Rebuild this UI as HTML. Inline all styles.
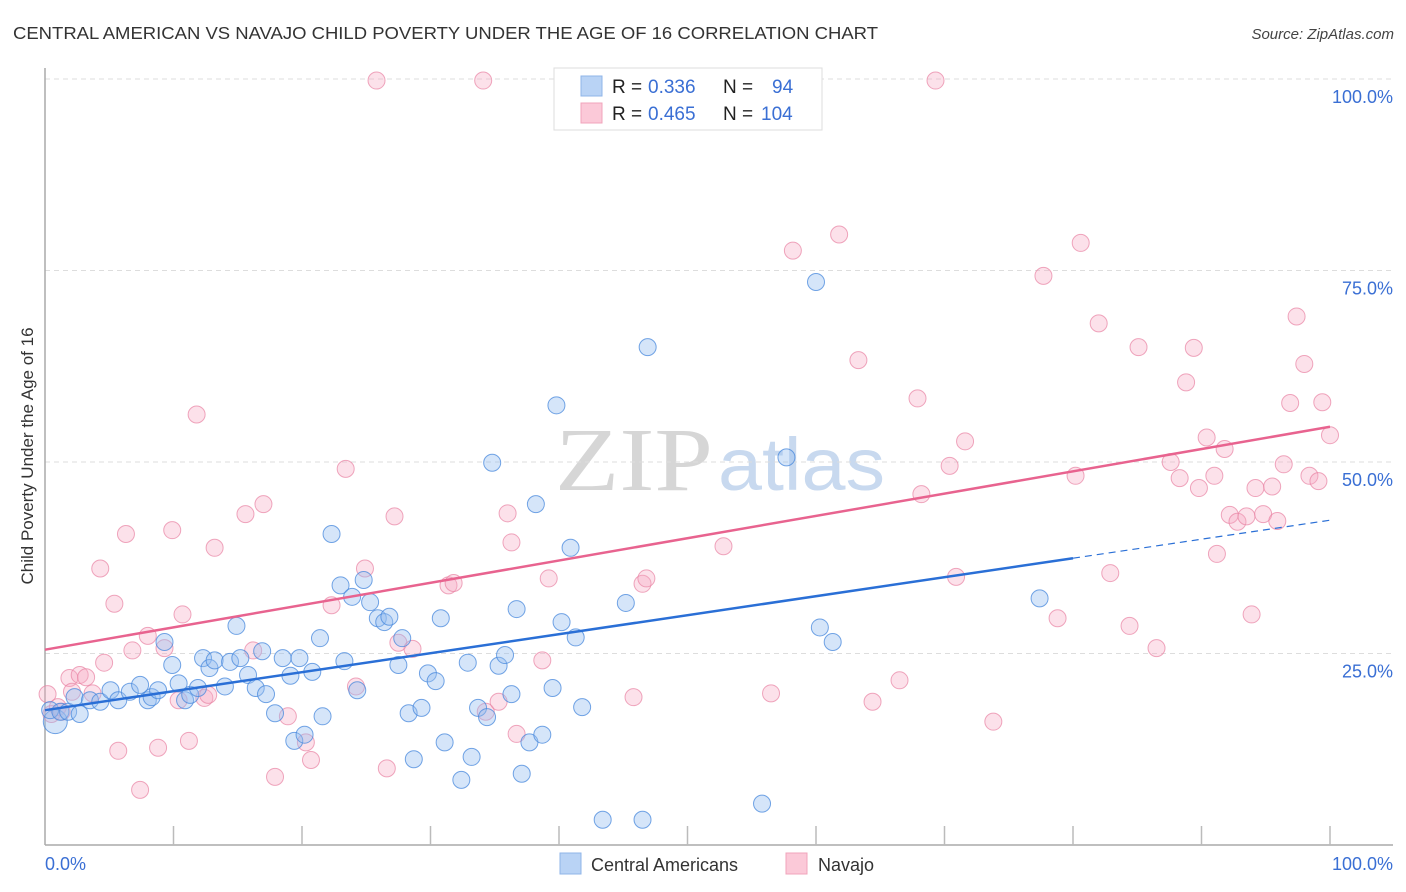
<!DOCTYPE html>
<html><head><meta charset="utf-8"><style>
body{margin:0;background:#fff;font-family:"Liberation Sans",sans-serif}
svg{display:block}
</style></head><body>
<svg id="chart" width="1406" height="892" viewBox="0 0 1406 892">
<text x="13" y="39" font-size="17.5" fill="#333" textLength="865" lengthAdjust="spacingAndGlyphs">CENTRAL AMERICAN VS NAVAJO CHILD POVERTY UNDER THE AGE OF 16 CORRELATION CHART</text>
<text x="1394" y="39" font-size="15" fill="#444" text-anchor="end" font-style="italic">Source: ZipAtlas.com</text>
<g>
<text x="555" y="490" font-size="90" font-family="Liberation Serif,serif" fill="#d6d6d6" textLength="158" lengthAdjust="spacingAndGlyphs">ZIP</text>
<text x="718" y="490" font-size="74" fill="#c8d9ef" textLength="167" lengthAdjust="spacingAndGlyphs">atlas</text>
</g>
<g id="grid"></g>
<line x1="45" y1="68" x2="45" y2="845" stroke="#aaa" stroke-width="1.5"/>
<line x1="45" y1="845" x2="1393" y2="845" stroke="#aaa" stroke-width="1.5"/>
<g id="xticks"></g>
<text transform="translate(33,456) rotate(-90)" font-size="17" fill="#333" text-anchor="middle">Child Poverty Under the Age of 16</text>
<text x="45" y="870" font-size="18" fill="#3a6fd4">0.0%</text>
<text x="1393" y="870" font-size="18" fill="#3a6fd4" text-anchor="end">100.0%</text>
<g id="pts"></g>
<g id="trends"></g>
<g>
<rect x="554" y="68" width="268" height="62" fill="#fff" stroke="#ddd"/>
<rect x="581" y="76" width="21" height="20" fill="#b9d3f5" stroke="#8fb4e8"/>
<rect x="581" y="103" width="21" height="20" fill="#fbc9d8" stroke="#f0a4bb"/>
<text x="612" y="93" font-size="19" fill="#222">R = <tspan x="648" fill="#3a6fd4">0.336</tspan><tspan x="723">N =</tspan><tspan x="772" fill="#3a6fd4">94</tspan></text>
<text x="612" y="120" font-size="19" fill="#222">R = <tspan x="648" fill="#3a6fd4">0.465</tspan><tspan x="723">N =</tspan><tspan x="761" fill="#3a6fd4">104</tspan></text>
</g>
<g>
<rect x="560" y="853" width="21" height="21" fill="#b9d3f5" stroke="#8fb4e8"/>
<text x="591" y="871" font-size="18" fill="#333">Central Americans</text>
</g>
<g>
<rect x="786" y="853" width="21" height="21" fill="#fbc9d8" stroke="#f0a4bb"/>
<text x="818" y="871" font-size="18" fill="#333">Navajo</text>
</g>
</svg>
<script>
const yTicks=[25,50,75,100];
const yTickLabels=["25.0%","50.0%","75.0%","100.0%"];
const xTicks=[10,20,30,40,50,60,70,80,90,100];
const blueX=[0.8,0.4,1.2,1.8,2.7,2.3,3.5,4.3,5.1,5.7,6.6,7.4,8.0,8.3,8.8,9.3,9.9,10.4,10.9,11.3,11.9,12.3,12.8,13.2,14.0,14.4,14.9,15.2,15.8,16.4,16.9,17.2,17.9,18.5,19.1,19.4,19.8,20.2,20.8,21.4,21.6,22.3,23.0,23.3,23.9,24.3,24.8,25.3,25.9,26.4,26.8,27.5,27.8,28.3,28.7,29.3,29.8,30.4,30.8,31.1,32.4,32.9,33.2,33.7,34.4,34.8,35.3,35.8,36.3,36.7,37.1,37.7,38.2,38.7,39.5,39.8,40.2,40.9,41.3,41.8,43.4,45.2,46.5,46.9,55.8,57.7,60.0,60.3,61.3,77.4];
const blueY=[16.1,17.6,17.4,17.4,17.1,19.3,18.9,18.7,20.2,18.9,20.0,20.9,18.9,19.3,20.2,26.5,23.5,21.1,18.9,19.6,20.5,24.4,23.1,24.1,20.7,23.9,28.6,24.4,22.2,20.5,25.3,19.7,17.2,24.4,22.1,13.6,24.4,14.4,22.6,27.0,16.8,40.6,33.9,24.0,32.4,20.2,34.6,31.7,29.6,29.1,29.8,23.5,27.0,17.2,11.2,17.9,22.4,21.4,29.6,13.4,8.5,23.8,11.5,17.9,16.7,49.9,23.4,24.8,19.7,30.8,9.3,13.4,44.5,14.4,20.5,57.4,29.1,38.8,27.1,18.0,3.3,31.6,3.3,65.0,5.4,50.6,73.5,28.4,26.5,32.2];
const pinkX=[0.2,0.5,1.0,1.3,1.9,2.1,2.7,3.2,3.7,4.3,4.6,5.4,5.7,6.3,6.8,7.4,8.0,8.8,9.3,9.9,10.4,10.7,11.2,11.8,12.4,12.7,13.2,15.6,16.2,17.0,17.9,18.9,20.3,20.7,22.3,23.4,24.2,24.9,25.8,26.6,27.2,27.5,28.6,31.4,31.8,34.1,34.3,35.3,36.0,36.3,36.7,38.7,39.2,40.5,45.8,46.5,46.8,52.8,56.5,58.2,61.8,63.3,64.4,66.5,67.9,68.2,69.3,70.4,70.9,71.6,73.8,77.7,78.8,80.2,80.6,82.0,82.9,84.4,85.1,86.5,87.6,88.3,88.8,89.4,89.8,90.4,91.0,91.2,91.8,92.2,92.8,93.5,93.9,94.2,94.8,95.5,95.9,96.4,96.9,97.4,98.0,98.4,99.1,99.4,100];
const pinkY=[19.7,17.1,18.0,17.4,21.8,20.0,22.2,21.9,19.8,36.1,23.8,31.5,12.3,40.6,25.4,7.2,27.3,12.7,25.7,41.1,18.9,30.1,13.6,56.2,19.2,19.6,38.8,43.2,25.4,44.5,8.9,16.8,13.4,11.1,31.3,49.1,20.7,36.1,99.8,10.0,42.9,26.4,25.6,33.9,34.2,99.8,17.4,18.7,43.3,39.5,14.5,24.1,34.8,99.8,19.3,34.1,34.8,39.0,19.8,77.6,79.7,63.3,18.7,21.5,58.3,45.8,99.8,49.5,35.0,52.7,16.1,74.3,29.6,48.2,78.6,68.1,35.5,28.6,65.0,25.7,50.0,47.9,60.4,64.9,46.6,53.2,48.2,38.0,51.7,43.1,42.2,42.9,30.1,46.6,43.2,46.8,42.3,49.7,57.7,69.0,62.8,48.2,47.5,57.8,53.5];
const blueTrend=[17.6,42.4];
const blueSolidEnd=80;
const pinkTrend=[25.5,54.6];
const NS="http://www.w3.org/2000/svg";
const X=v=>45+v*12.85, Y=v=>845-v*7.66;
function mk(t,a,p){const e=document.createElementNS(NS,t);for(const k in a)e.setAttribute(k,a[k]);p.appendChild(e);return e;}
const grid=document.getElementById('grid');
yTicks.forEach((t,i)=>{
 const l=mk('line',{x1:45,x2:1393,y1:Y(t),y2:Y(t),stroke:'#ddd','stroke-dasharray':'5,4'},grid);
 
 
 const tx=mk('text',{x:1393,y:Y(t)+24,'font-size':18,fill:'#3a6fd4','text-anchor':'end'},grid);
 tx.textContent=yTickLabels[i];
 
 
});
const xt=document.getElementById('xticks');
xTicks.forEach(t=>{
 const l=mk('line',{x1:X(t),x2:X(t),y1:826,y2:845,stroke:'#bbb','stroke-width':1.5},xt);
 
 
});
const pts=document.getElementById('pts');
pinkX.forEach((x,i)=>{
 const c=mk('circle',{cx:X(x),cy:Y(pinkY[i]),r:8.5,fill:'rgba(245,170,195,0.35)',stroke:'rgba(232,130,162,0.7)','stroke-width':1},pts);
 
 
});
blueX.forEach((x,i)=>{
 const c=mk('circle',{cx:X(x),cy:Y(blueY[i]),r:i==0?12:8.5,fill:'rgba(150,190,240,0.4)',stroke:'rgba(70,135,220,0.75)','stroke-width':1},pts);
 
 
});
const tr=document.getElementById('trends');
const by=v=>blueTrend[0]+(blueTrend[1]-blueTrend[0])*v/100;
let l1=mk('line',{x1:X(0),y1:Y(by(0)),x2:X(blueSolidEnd),y2:Y(by(blueSolidEnd)),stroke:'#2a6fd6','stroke-width':2.5},tr);


let l2=mk('line',{x1:X(blueSolidEnd),y1:Y(by(blueSolidEnd)),x2:X(100),y2:Y(by(100)),stroke:'#2a6fd6','stroke-width':1.2,'stroke-dasharray':'7,5'},tr);


let l3=mk('line',{x1:X(0),y1:Y(pinkTrend[0]),x2:X(100),y2:Y(pinkTrend[1]),stroke:'#e8638f','stroke-width':2.5},tr);


</script>
</body></html>
